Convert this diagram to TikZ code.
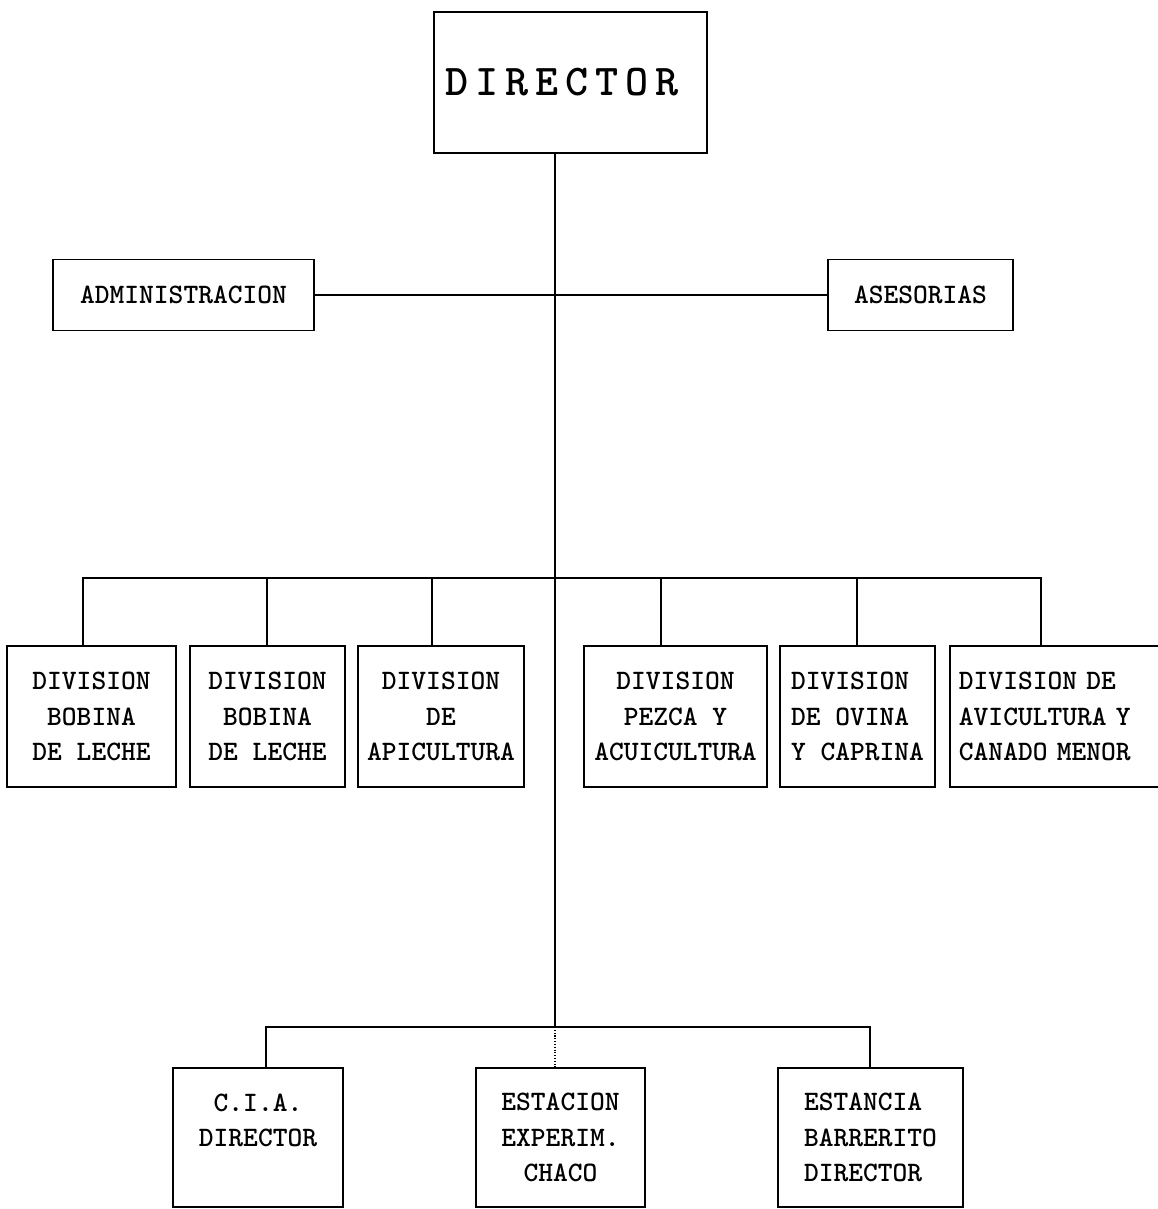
\documentclass[tikz,border=0pt]{standalone}
\usepackage{tikz}
\usetikzlibrary{positioning}

\tikzset{
  caja/.style={draw, line width=1.1pt, align=center, inner sep=0pt,
    font=\ttfamily\bfseries\fontsize{16}{20}\selectfont},
  linea/.style={line width=1.1pt}
}

\begin{document}
\begin{tikzpicture}
\useasboundingbox (0,0) rectangle (23.14,-24.18);

% Director
\node[caja, align=left, text width=5.02cm, inner xsep=0.22cm, minimum height=2.82cm,
  font=\ttfamily\bfseries\fontsize{25}{30}\selectfont] (director) at (11.41,-1.65)
  {D\kern4pt I\kern4pt R\kern4pt E\kern4pt C\kern4pt T\kern4pt O\kern4pt R};

% Staff
\node[caja, minimum width=5.22cm, minimum height=1.42cm] (admin) at (3.67,-5.90) {ADMINISTRACION};
\node[caja, minimum width=3.70cm, minimum height=1.42cm] (asesorias) at (18.41,-5.90) {ASESORIAS};

% Divisions
\node[caja, minimum width=3.38cm, minimum height=2.82cm] (div1) at (1.83,-14.33) {DIVISION\\BOBINA\\DE LECHE};
\node[caja, minimum width=3.10cm, minimum height=2.82cm] (div2) at (5.35,-14.33) {DIVISION\\BOBINA\\DE LECHE};
\node[caja, minimum width=3.32cm, minimum height=2.82cm] (div3) at (8.82,-14.33) {DIVISION\\DE\\APICULTURA};
\node[caja, minimum width=3.66cm, minimum height=2.82cm] (div4) at (13.51,-14.33) {DIVISION\\PEZCA Y\\ACUICULTURA};
\node[caja, align=left, minimum width=3.10cm, minimum height=2.82cm] (div5) at (17.15,-14.33) {DIVISION\\DE OVINA\\Y CAPRINA};
\node[caja, align=left, anchor=west, text width=4.00cm, inner xsep=0.18cm, minimum height=2.82cm] (div6) at (18.98,-14.33) {DIVISION DE\\AVICULTURA Y\\CANADO MENOR};

% Stations
\node[caja, minimum width=3.40cm, minimum height=2.78cm] (cia) at (5.16,-22.75) {C.I.A.\\DIRECTOR\\~};
\node[caja, minimum width=3.38cm, minimum height=2.78cm] (estacion) at (11.21,-22.75) {ESTACION\\EXPERIM.\\CHACO};
\node[caja, align=left, minimum width=3.70cm, minimum height=2.78cm] (estancia) at (17.41,-22.75) {ESTANCIA\\BARRERITO\\DIRECTOR};

% Lines
\coordinate (busA) at (11.10,-11.56);
\coordinate (busB) at (11.10,-20.54);
\draw[linea] (director.south -| busA) -- (busB);
\draw[line width=0.6pt, densely dotted] (busB) -- (busB |- estacion.north);
\draw[linea] (admin) -- (asesorias);
\foreach \n/\dx in {div1/-0.17, div2/-0.01, div3/-0.18, div4/-0.29, div5/-0.01, div6/-0.36}
  \draw[linea] ([xshift=\dx cm]\n.north) |- (busA);
\foreach \n/\dx in {cia/0.16, estancia/-0.01}
  \draw[linea] ([xshift=\dx cm]\n.north) |- (busB);
\end{tikzpicture}
\end{document}
